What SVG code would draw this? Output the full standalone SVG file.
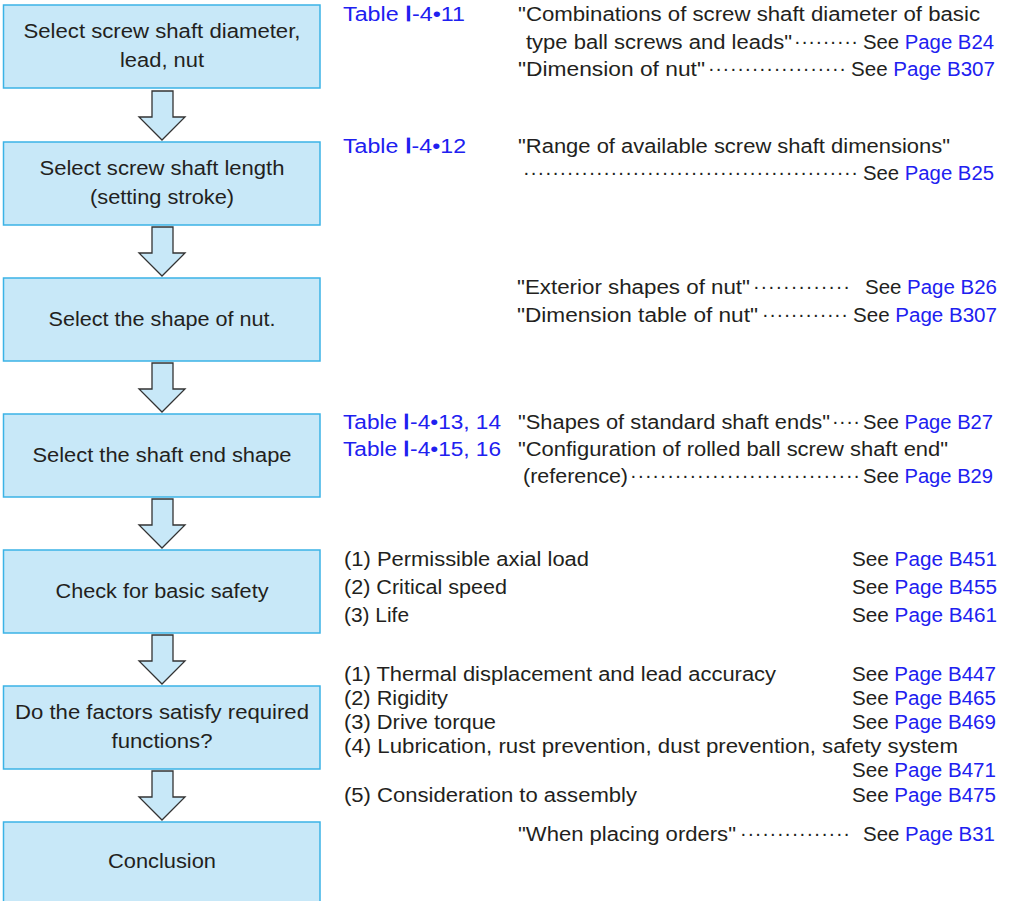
<svg xmlns="http://www.w3.org/2000/svg" width="1009" height="901" viewBox="0 0 1009 901">
<style>
text{font-family:"Liberation Sans",Arial,sans-serif;fill:#231f20;}
.bt{font-size:20px;text-anchor:middle;}
.t{font-size:20px;}
.e{font-size:20px;text-anchor:end;}
.b{fill:#2020f0;}
.r{font-family:"DejaVu Sans Mono",monospace;font-weight:bold;}
.box{fill:#c8e8f8;stroke:#3bb3e6;stroke-width:1.5;}
.arr{fill:#c8e8f8;stroke:#333;stroke-width:1.3;stroke-linejoin:miter;}
.d{font-size:20px;}
</style>
<rect width="1009" height="901" fill="#fff"/>

<g id="node1"><rect class="box" x="3.5" y="5" width="316.5" height="83"/>
<text class="bt" x="162" y="38" textLength="277" lengthAdjust="spacingAndGlyphs">Select screw shaft diameter,</text>
<text class="bt" x="162" y="67" textLength="84" lengthAdjust="spacingAndGlyphs">lead, nut</text></g>
<g id="node2"><rect class="box" x="3.5" y="142" width="316.5" height="83"/>
<text class="bt" x="162" y="175" textLength="245" lengthAdjust="spacingAndGlyphs">Select screw shaft length</text>
<text class="bt" x="162" y="204" textLength="144" lengthAdjust="spacingAndGlyphs">(setting stroke)</text></g>
<g id="node3"><rect class="box" x="3.5" y="278" width="316.5" height="83"/>
<text class="bt" x="162" y="326" textLength="227" lengthAdjust="spacingAndGlyphs">Select the shape of nut.</text></g>
<g id="node4"><rect class="box" x="3.5" y="414" width="316.5" height="83"/>
<text class="bt" x="162" y="462" textLength="259" lengthAdjust="spacingAndGlyphs">Select the shaft end shape</text></g>
<g id="node5"><rect class="box" x="3.5" y="550" width="316.5" height="83"/>
<text class="bt" x="162" y="598" textLength="213" lengthAdjust="spacingAndGlyphs">Check for basic safety</text></g>
<g id="node6"><rect class="box" x="3.5" y="686" width="316.5" height="83"/>
<text class="bt" x="162" y="719" textLength="294" lengthAdjust="spacingAndGlyphs">Do the factors satisfy required</text>
<text class="bt" x="162" y="748" textLength="101" lengthAdjust="spacingAndGlyphs">functions?</text></g>
<g id="node7"><rect class="box" x="3.5" y="822" width="316.5" height="90"/>
<text class="bt" x="162" y="868" textLength="108" lengthAdjust="spacingAndGlyphs">Conclusion</text></g>

<g id="connectors">
<path class="arr" d="M152,91 H173 V117 H185 L162,140 L139,117 H152 Z"/>
<path class="arr" d="M152,227 H173 V253 H185 L162,276 L139,253 H152 Z"/>
<path class="arr" d="M152,363 H173 V389 H185 L162,412 L139,389 H152 Z"/>
<path class="arr" d="M152,499 H173 V525 H185 L162,548 L139,525 H152 Z"/>
<path class="arr" d="M152,635 H173 V661 H185 L162,684 L139,661 H152 Z"/>
<path class="arr" d="M152,771 H173 V797 H185 L162,820 L139,797 H152 Z"/>
</g>

<g id="notes1">
<text class="t b" x="343" y="21" textLength="122" lengthAdjust="spacingAndGlyphs">Table <tspan class="r">Ⅰ</tspan>-4•11</text>
<text class="t" x="518" y="21" textLength="462" lengthAdjust="spacingAndGlyphs">"Combinations of screw shaft diameter of basic</text>
<text class="t" x="526" y="49" textLength="266" lengthAdjust="spacingAndGlyphs">type ball screws and leads"</text>
<text class="d" x="794" y="48" textLength="64">·········</text>
<text class="e" x="994" y="49" textLength="131" lengthAdjust="spacingAndGlyphs">See <tspan class="b">Page B24</tspan></text>
<text class="t" x="518" y="76" textLength="187" lengthAdjust="spacingAndGlyphs">"Dimension of nut"</text>
<text class="d" x="708" y="75" textLength="138">···················</text>
<text class="e" x="995" y="76" textLength="144" lengthAdjust="spacingAndGlyphs">See <tspan class="b">Page B307</tspan></text>
</g>
<g id="notes2">
<text class="t b" x="343" y="153" textLength="123" lengthAdjust="spacingAndGlyphs">Table <tspan class="r">Ⅰ</tspan>-4•12</text>
<text class="t" x="518" y="153" textLength="432" lengthAdjust="spacingAndGlyphs">"Range of available screw shaft dimensions"</text>
<text class="d" x="523" y="179" textLength="335">··············································</text>
<text class="e" x="994" y="180" textLength="131" lengthAdjust="spacingAndGlyphs">See <tspan class="b">Page B25</tspan></text>
</g>
<g id="notes3">
<text class="t" x="517" y="294" textLength="233" lengthAdjust="spacingAndGlyphs">"Exterior shapes of nut"</text>
<text class="d" x="753" y="293" textLength="97">·············</text>
<text class="e" x="997" y="294" textLength="132" lengthAdjust="spacingAndGlyphs">See <tspan class="b">Page B26</tspan></text>
<text class="t" x="517" y="322" textLength="241" lengthAdjust="spacingAndGlyphs">"Dimension table of nut"</text>
<text class="d" x="762" y="321" textLength="86">············</text>
<text class="e" x="997" y="322" textLength="144" lengthAdjust="spacingAndGlyphs">See <tspan class="b">Page B307</tspan></text>
</g>
<g id="notes4">
<text class="t b" x="343" y="429" textLength="158" lengthAdjust="spacingAndGlyphs">Table <tspan class="r">Ⅰ</tspan>-4•13, 14</text>
<text class="t" x="518" y="429" textLength="312" lengthAdjust="spacingAndGlyphs">"Shapes of standard shaft ends"</text>
<text class="d" x="832" y="428" textLength="28">····</text>
<text class="e" x="993" y="429" textLength="130" lengthAdjust="spacingAndGlyphs">See <tspan class="b">Page B27</tspan></text>
<text class="t b" x="343" y="456" textLength="158" lengthAdjust="spacingAndGlyphs">Table <tspan class="r">Ⅰ</tspan>-4•15, 16</text>
<text class="t" x="518" y="456" textLength="430" lengthAdjust="spacingAndGlyphs">"Configuration of rolled ball screw shaft end"</text>
<text class="t" x="523" y="483" textLength="105" lengthAdjust="spacingAndGlyphs">(reference)</text>
<text class="d" x="630" y="482" textLength="230">·······························</text>
<text class="e" x="993" y="483" textLength="130" lengthAdjust="spacingAndGlyphs">See <tspan class="b">Page B29</tspan></text>
</g>
<g id="notes5">
<text class="t" x="344" y="566" textLength="245" lengthAdjust="spacingAndGlyphs">(1) Permissible axial load</text>
<text class="e" x="997" y="566" textLength="145" lengthAdjust="spacingAndGlyphs">See <tspan class="b">Page B451</tspan></text>
<text class="t" x="344" y="594" textLength="163" lengthAdjust="spacingAndGlyphs">(2) Critical speed</text>
<text class="e" x="997" y="594" textLength="145" lengthAdjust="spacingAndGlyphs">See <tspan class="b">Page B455</tspan></text>
<text class="t" x="344" y="622" textLength="65" lengthAdjust="spacingAndGlyphs">(3) Life</text>
<text class="e" x="997" y="622" textLength="145" lengthAdjust="spacingAndGlyphs">See <tspan class="b">Page B461</tspan></text>
</g>
<g id="notes6">
<text class="t" x="344" y="681" textLength="432" lengthAdjust="spacingAndGlyphs">(1) Thermal displacement and lead accuracy</text>
<text class="e" x="996" y="681" textLength="144" lengthAdjust="spacingAndGlyphs">See <tspan class="b">Page B447</tspan></text>
<text class="t" x="344" y="705" textLength="104" lengthAdjust="spacingAndGlyphs">(2) Rigidity</text>
<text class="e" x="996" y="705" textLength="144" lengthAdjust="spacingAndGlyphs">See <tspan class="b">Page B465</tspan></text>
<text class="t" x="344" y="729" textLength="152" lengthAdjust="spacingAndGlyphs">(3) Drive torque</text>
<text class="e" x="996" y="729" textLength="144" lengthAdjust="spacingAndGlyphs">See <tspan class="b">Page B469</tspan></text>
<text class="t" x="344" y="753" textLength="614" lengthAdjust="spacingAndGlyphs">(4) Lubrication, rust prevention, dust prevention, safety system</text>
<text class="e" x="996" y="777" textLength="144" lengthAdjust="spacingAndGlyphs">See <tspan class="b">Page B471</tspan></text>
<text class="t" x="344" y="802" textLength="293" lengthAdjust="spacingAndGlyphs">(5) Consideration to assembly</text>
<text class="e" x="996" y="802" textLength="144" lengthAdjust="spacingAndGlyphs">See <tspan class="b">Page B475</tspan></text>
</g>
<g id="notes7">
<text class="t" x="518" y="841" textLength="218" lengthAdjust="spacingAndGlyphs">"When placing orders"</text>
<text class="d" x="740" y="840" textLength="110">···············</text>
<text class="e" x="995" y="841" textLength="132" lengthAdjust="spacingAndGlyphs">See <tspan class="b">Page B31</tspan></text>
</g>
</svg>
